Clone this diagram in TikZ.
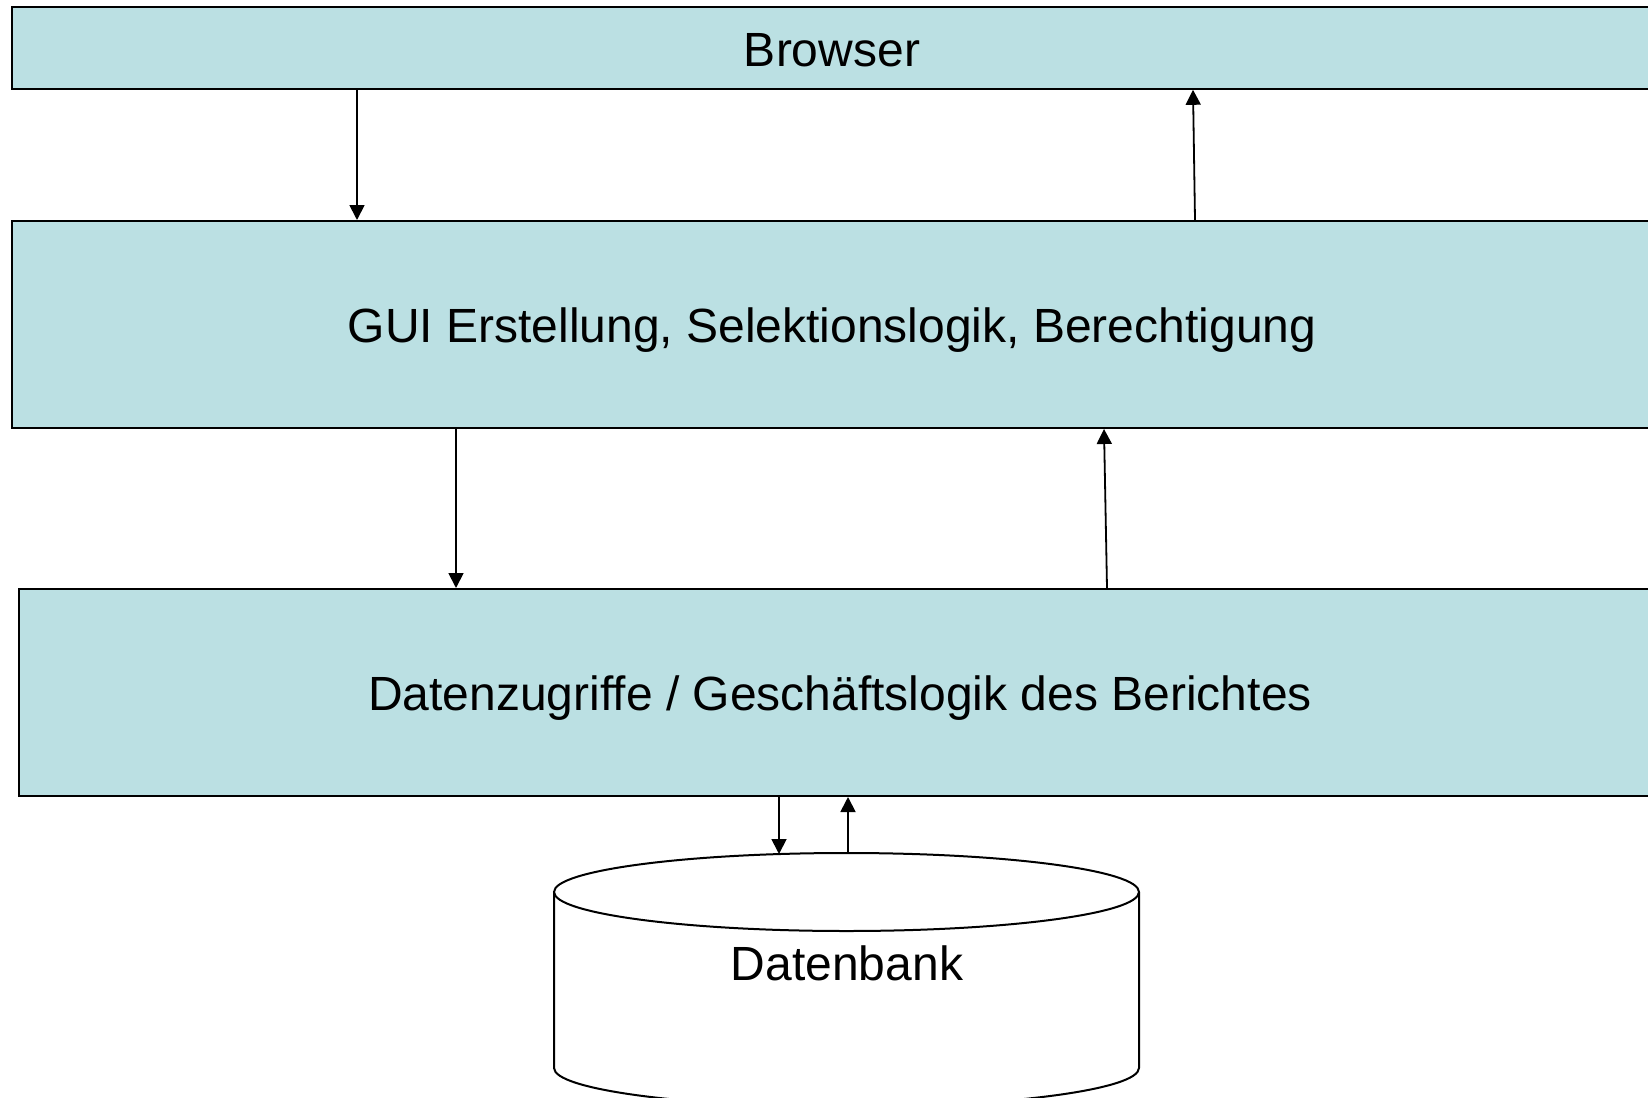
\documentclass[tikz,border=0pt]{standalone}
\usepackage{fontspec}
\setmainfont{Liberation Sans}
\usetikzlibrary{arrows.meta}
\definecolor{layerfill}{RGB}{187,224,227}
\tikzset{
  layer/.style={draw=black, line width=1pt, fill=layerfill, inner sep=0pt},
  flow/.style={line width=0.9pt, -{Triangle[length=7.5pt,width=7.5pt]}},
  label/.style={inner sep=0pt, font=\fontsize{24pt}{29pt}\selectfont}
}
\begin{document}
\begin{tikzpicture}[x=0.5pt,y=-0.5pt]
  % page area
  \fill[white] (0,0) rectangle (1648,1097);
  \useasboundingbox (0,0) rectangle (1648,1097);

  % the three layers
  \node[layer, minimum width=820.5pt, minimum height=40.8pt] (browser) at (832,48) {};
  \node[layer, minimum width=820.5pt, minimum height=103.5pt] (gui) at (832,324.5) {};
  \node[layer, minimum width=822pt, minimum height=103.5pt] (data) at (841,692.5) {};
  \node[label] (browsertxt) at ([yshift=-1pt]browser.center) {Browser};
  \node[label] (guitxt) at ([yshift=-3pt]gui.center)
    {GUI Erstellung, Selektionslogik, Berechtigung};
  \node[label] (datatxt) at ([yshift=-3pt,xshift=-0.5pt]data.center)
    {Datenzugriffe / Geschäftslogik des Berichtes};

  % database cylinder
  \draw[line width=1pt, fill=white]
    (554,892) -- (554,1068)
    arc[start angle=180, end angle=0, x radius=292.5, y radius=39]
    -- (1139,892);
  \draw[line width=1pt, fill=white] (846.5,892) ellipse[x radius=292.5, y radius=39];
  \node[label] (db) at (847,963) {Datenbank};
  \coordinate (dbin)  at (779,854);
  \coordinate (dbout) at (848,853);

  % requests and responses between the layers
  \draw[flow] (357,0 |- browser.south) -- (357,0 |- gui.north);
  \draw[flow] (1195,0 |- gui.north) -- (1193,0 |- browser.south);
  \draw[flow] (456,0 |- gui.south) -- (456,0 |- data.north);
  \draw[flow] (1107,0 |- data.north) -- (1104,0 |- gui.south);
  \draw[flow] (779,0 |- data.south) -- (dbin);
  \draw[flow] (dbout) -- (848,0 |- data.south);
\end{tikzpicture}
\end{document}
